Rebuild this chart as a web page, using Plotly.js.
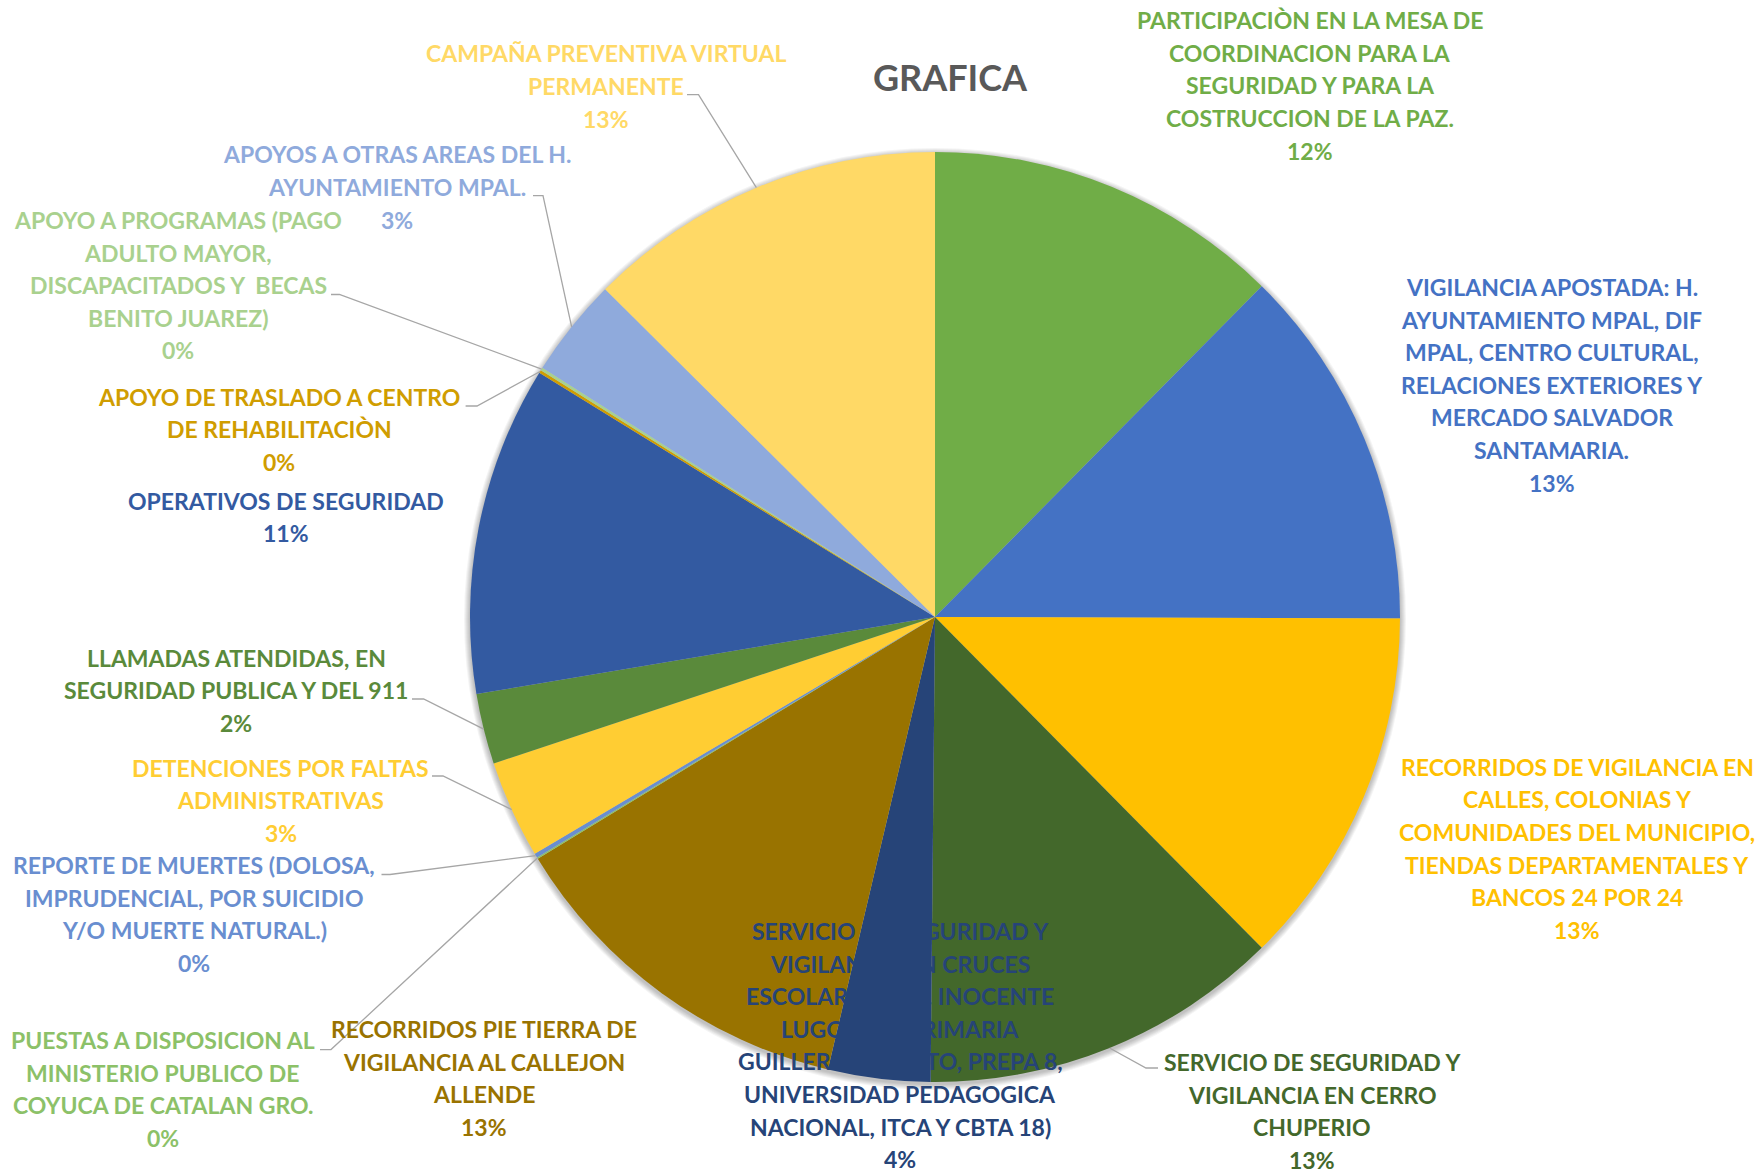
<!DOCTYPE html>
<html><head><meta charset="utf-8">
<script src="https://cdn.plot.ly/plotly-3.0.1.min.js"></script>
<style>html,body{margin:0;padding:0;background:#fff}#chart{width:1760px;height:1175px}</style>
</head><body><div id="chart"></div>
<script>
// ---------- DATA ----------
const chartTitle = "GRAFICA";
const categories = [
  "PARTICIPACIÒN EN LA MESA DE COORDINACION PARA LA SEGURIDAD Y PARA LA COSTRUCCION DE LA PAZ.",
  "VIGILANCIA APOSTADA: H. AYUNTAMIENTO MPAL, DIF MPAL, CENTRO CULTURAL, RELACIONES EXTERIORES Y MERCADO SALVADOR SANTAMARIA.",
  "RECORRIDOS DE VIGILANCIA EN CALLES, COLONIAS Y COMUNIDADES DEL MUNICIPIO, TIENDAS DEPARTAMENTALES Y BANCOS 24 POR 24",
  "SERVICIO DE SEGURIDAD Y VIGILANCIA EN CERRO CHUPERIO",
  "SERVICIO DE SEGURIDAD Y VIGILANCIA EN CRUCES ESCOLARES (ESC. INOCENTE LUGO, ESC. PRIMARIA GUILLERMO PRIETO, PREPA 8, UNIVERSIDAD PEDAGOGICA NACIONAL, ITCA Y CBTA 18)",
  "RECORRIDOS PIE TIERRA DE VIGILANCIA AL CALLEJON ALLENDE",
  "PUESTAS A DISPOSICION AL MINISTERIO PUBLICO DE COYUCA DE CATALAN GRO.",
  "REPORTE DE MUERTES (DOLOSA, IMPRUDENCIAL, POR SUICIDIO Y/O MUERTE NATURAL.)",
  "DETENCIONES POR FALTAS ADMINISTRATIVAS",
  "LLAMADAS ATENDIDAS, EN SEGURIDAD PUBLICA Y DEL 911",
  "OPERATIVOS DE SEGURIDAD",
  "APOYO DE TRASLADO A CENTRO DE REHABILITACIÒN",
  "APOYO A PROGRAMAS (PAGO ADULTO MAYOR, DISCAPACITADOS Y  BECAS BENITO JUAREZ)",
  "APOYOS A OTRAS AREAS DEL H. AYUNTAMIENTO MPAL.",
  "CAMPAÑA PREVENTIVA VIRTUAL PERMANENTE"
];
const values = [12.4, 12.65, 12.55, 12.55, 3.55, 12.6, 0.05, 0.15, 3.4, 2.45, 11.45, 0.1, 0.1, 3.45, 12.55];
const colors = ["#70AD47","#4472C4","#FFC000","#43682B","#264478","#997300",
                "#8CC168","#698ED0","#FFCD33","#5A8A3B","#335AA1","#D09D00",
                "#A9D18E","#8FAADC","#FFD966"];

// ---------- LAYOUT CONFIG ----------
const W = 1760, H = 1175, CX = 935, CY = 617, R = 465;
const FONT = 'Lato, "Liberation Sans", sans-serif';
const LINE = 32.6, FSIZE = 23, DY = -2;
// words per line, centre x, first line centre y, optional leader [startX, startY, bendX]
const labelLayout = [
  {words:[5,3,4,4], x:1310, y:22.1},
  {words:[3,3,3,3,2,1], x:1551.5, y:289},
  {words:[4,3,3,3,4], x:1577, y:768.8},
  {words:[4,3,1], x:1312, y:1064, leader:[1158,1068,1146]},
  {words:[4,3,3,3,4,2,5], x:900, y:933},
  {words:[4,3,1], x:484, y:1031},
  {words:[4,3,4], x:163, y:1042, leader:[320,1049.6,331]},
  {words:[4,3,3], x:194, y:867, leader:[381.5,874.5,390]},
  {words:[3,1], x:280.5, y:769.6, leader:[432,776,443]},
  {words:[3,5], x:236, y:659.5, leader:[412,699,423.6]},
  {words:[4], x:286, y:502.7},
  {words:[5,2], x:279.4, y:398.8, leader:[465.6,406,477]},
  {words:[4,2,4,2], x:178, y:222, leader:[331,294.5,339.4]},
  {words:[6,2], x:397, y:156.4, leader:[533,195.6,543]},
  {words:[3,1], x:606, y:55.3, leader:[687,94.6,698.5]}
];

const px = x => x / W, py = y => 1 - y / H;
const total = values.reduce((a, b) => a + b, 0);

const annotations = [];
const shapes = [];

// soft shadow around the pie
for (let k = 6; k >= 1; k--) {
  const rr = R + k, oy = 2;
  shapes.push({type:'circle', xref:'paper', yref:'paper', layer:'below',
    x0: px(CX - rr), x1: px(CX + rr), y0: py(CY + oy + rr), y1: py(CY + oy - rr),
    fillcolor:'rgba(0,0,0,0.045)', line:{width:0}});
}

let cum = 0;
values.forEach((v, i) => {
  const mid = (cum + v / 2) / total * 2 * Math.PI;
  cum += v;
  const ex = CX + R * Math.sin(mid), ey = CY - R * Math.cos(mid);
  const cfg = labelLayout[i];
  const tokens = categories[i].split(' ');
  const lines = [];
  let p = 0;
  cfg.words.forEach(n => { lines.push(tokens.slice(p, p + n).join(' ')); p += n; });
  lines.push(Math.round(v / total * 100) + '%');
  lines.forEach((t, j) => {
    annotations.push({xref:'paper', yref:'paper', x: px(cfg.x), y: py(cfg.y + DY + j * LINE),
      xanchor:'center', yanchor:'middle', showarrow:false, text:'<b>' + t + '</b>',
      font:{family:FONT, size:FSIZE, color:colors[i]}});
  });
  if (cfg.leader) {
    const [sx, sy, bx] = cfg.leader;
    shapes.push({type:'path', xref:'paper', yref:'paper', layer:'above',
      path:`M ${px(sx)},${py(sy)} L ${px(bx)},${py(sy)} L ${px(ex)},${py(ey)}`,
      line:{color:'#A6A6A6', width:1.3}});
  }
});

const trace = {
  type:'pie', labels:categories, values:values, sort:false, direction:'clockwise', rotation:0,
  marker:{colors:colors, line:{width:0}}, textinfo:'none', showlegend:false, hoverinfo:'label+percent',
  domain:{x:[px(CX - R), px(CX + R)], y:[py(CY + R), py(CY - R)]}
};

const layout = {
  width:W, height:H, margin:{l:0,r:0,t:0,b:0}, paper_bgcolor:'#fff', plot_bgcolor:'#fff',
  title:{text:'<b>' + chartTitle + '</b>', x:px(950), xanchor:'center', y:py(78), yanchor:'middle',
         font:{family:FONT, size:36, color:'#595959'}},
  annotations:annotations, shapes:shapes, showlegend:false
};

Plotly.newPlot('chart', [trace], layout, {displayModeBar:false, staticPlot:true});
</script></body></html>
